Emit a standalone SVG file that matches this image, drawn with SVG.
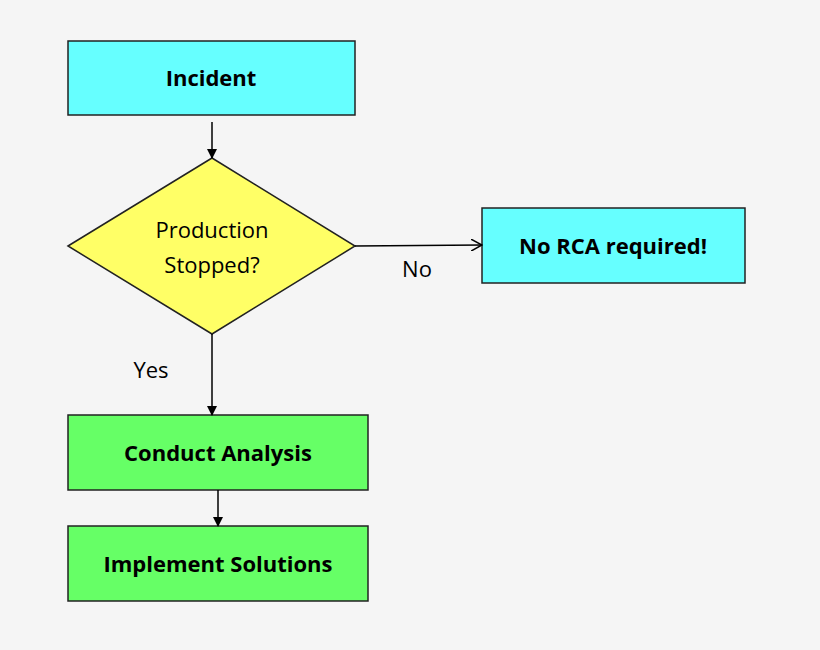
<svg xmlns="http://www.w3.org/2000/svg" width="820" height="650" viewBox="0 0 820 650">
<style>
.b{stroke:#222;stroke-width:1.5}
.t{font-family:"Open Sans","Liberation Sans",sans-serif;font-size:22px;text-anchor:middle;fill:#000}
.bold{font-weight:bold}
.c{stroke:#000;stroke-width:1.5;fill:none}
</style>
<defs>
<marker id="a" markerWidth="10" markerHeight="10" refX="9" refY="5" orient="auto" markerUnits="userSpaceOnUse"><path d="M0,0 L10,5 L0,10 z" fill="#000"/></marker>
<marker id="o" markerWidth="12" markerHeight="12" refX="11" refY="6" orient="auto" markerUnits="userSpaceOnUse"><path d="M0,0 L11,6 L0,12" fill="none" stroke="#000" stroke-width="1.5"/></marker>
</defs>
<rect width="820" height="650" fill="#f5f5f5"/>
<g id="incident"><rect x="68" y="41" width="287" height="74" fill="#66ffff" class="b"/><text x="211" y="86" class="t bold">Incident</text></g>
<g id="decision"><polygon points="68,246 212,158 355,246 212,334" fill="#ffff66" class="b"/><text x="212" y="238" class="t">Production</text><text x="212" y="273" class="t">Stopped?</text></g>
<g id="norca"><rect x="482" y="208" width="263" height="75" fill="#66ffff" class="b"/><text x="613" y="254" class="t bold">No RCA required!</text></g>
<g id="conduct"><rect x="68" y="415" width="300" height="75" fill="#66ff66" class="b"/><text x="218" y="461" class="t bold">Conduct Analysis</text></g>
<g id="implement"><rect x="68" y="526" width="300" height="75" fill="#66ff66" class="b"/><text x="218" y="572" class="t bold">Implement Solutions</text></g>
<g id="connectors">
<line x1="212" y1="122" x2="212" y2="158" class="c" marker-end="url(#a)"/>
<line x1="355" y1="246" x2="482" y2="245" class="c" marker-end="url(#o)"/>
<line x1="212" y1="334" x2="212" y2="415" class="c" marker-end="url(#a)"/>
<line x1="218" y1="490" x2="218" y2="526" class="c" marker-end="url(#a)"/>
<text x="417" y="277" class="t" font-size="24">No</text>
<text x="151" y="378" class="t" font-size="24">Yes</text>
</g>
</svg>
